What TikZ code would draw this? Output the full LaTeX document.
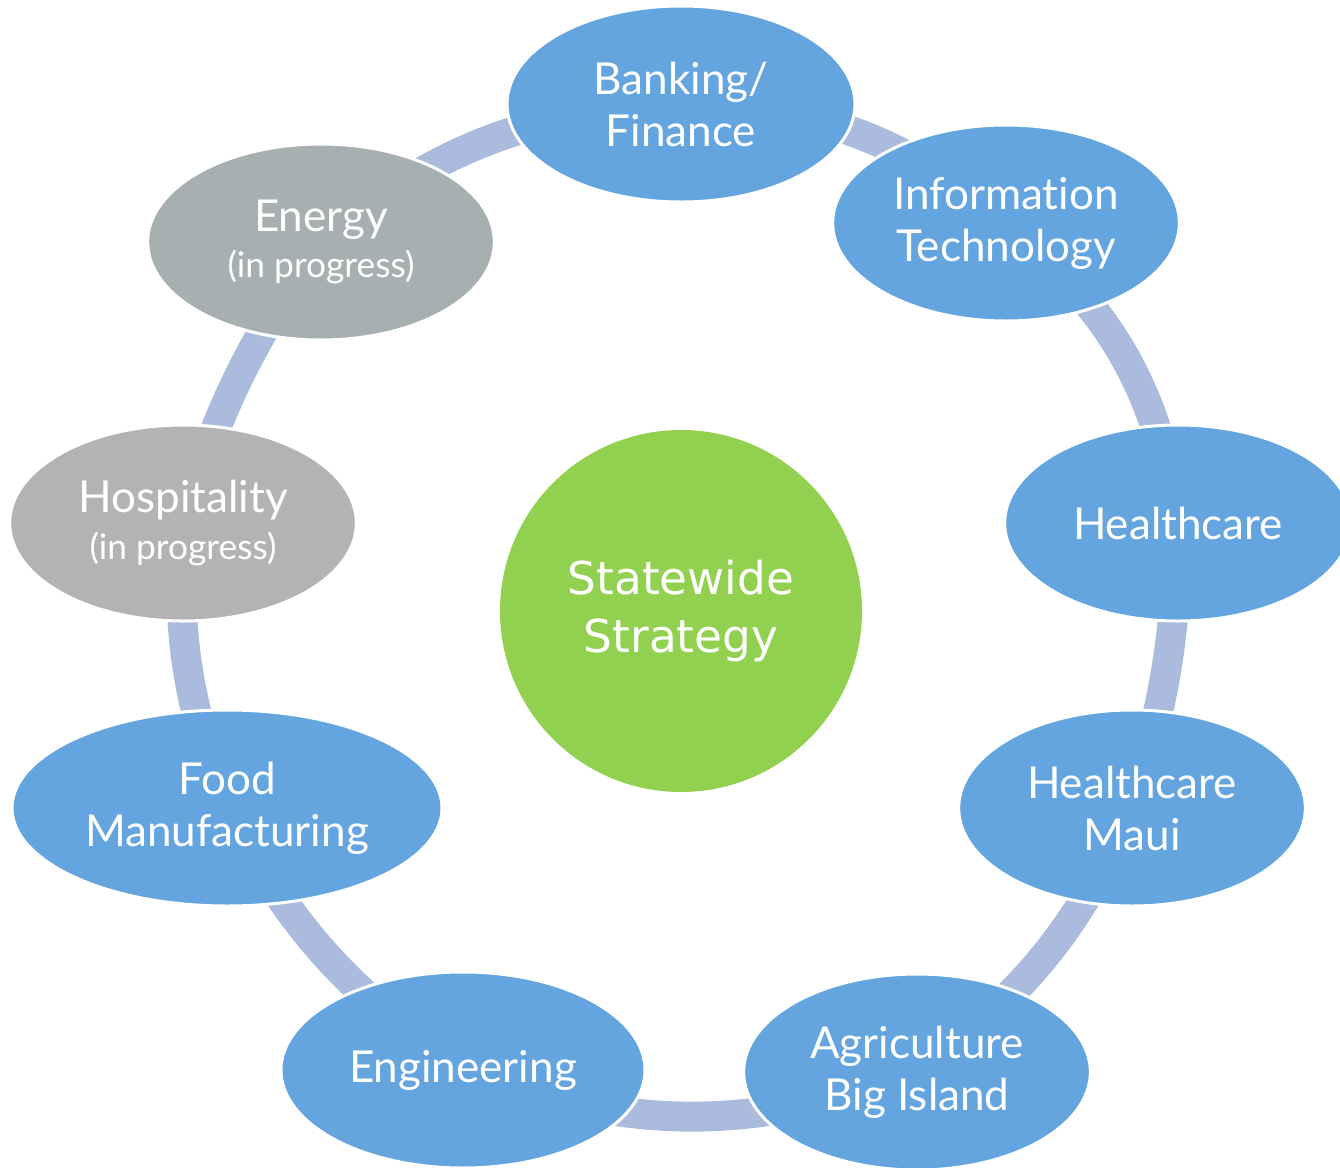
\documentclass[tikz,border=0pt]{standalone}
\usepackage{fontspec}
\setmainfont{Lato}[Ligatures=NoCommon]
\newfontfamily\centrefont{DejaVu Sans}
\usetikzlibrary{shapes.geometric,backgrounds}

\definecolor{sectorblue}{HTML}{64A5E0}
\definecolor{energygrey}{HTML}{A7B0B0}
\definecolor{hospgrey}{HTML}{B3B3B3}
\definecolor{hubgreen}{HTML}{92D050}
\definecolor{ringblue}{HTML}{ABBBDD}

\newcommand{\inprogress}{\\[-4pt]{\fontsize{26.5}{30}\selectfont (in progress)}}

\tikzset{
  sector/.style={ellipse, draw=white, line width=2.25pt, fill=sectorblue, text=white,
    inner sep=0pt, minimum width=260pt, minimum height=147pt, align=center,
    font=\fontsize{33}{39}\selectfont},
  ring/.style={draw=ringblue, line width=22.5pt}
}

\begin{document}
\begin{tikzpicture}[x=0.75pt,y=0.75pt,yscale=-1,xscale=1]
\useasboundingbox (0,0) rectangle (1340,1168);

% Hub
\node [circle, fill=hubgreen, text=white, minimum size=271.5pt, inner sep=0pt, align=center,
  font=\centrefont\fontsize{34}{44}\selectfont] (hub) at (681,611) {Statewide\\Strategy};

% Sectors
\node [sector, minimum width=261pt] (bank) at (681,104) {Banking/\\Finance};
\node [sector] (it) at (1006,223) {Information\\Technology};
\node [sector] (hc) at (1178,523) {Healthcare};
\node [sector] (maui) at (1132,808) {Healthcare\\Maui};
\node [sector] (agri) at (917,1072) {Agriculture\\Big Island};
\node [sector, minimum width=273pt] (eng) at (463,1070) {Engineering};
\node [sector, minimum width=322.5pt] (food) at (227,808) {Food\\Manufacturing};
\node [sector, fill=hospgrey] (hosp) at (183,523) {Hospitality\inprogress};
\node [sector, fill=energygrey] (energy) at (321,242) {Energy\inprogress};

% Ring
\begin{scope}[on background layer]
\draw [ring] (bank.center) to [bend right=19] (it.center);
\draw [ring] (it.center) to [bend right=21] (hc.center);
\draw [ring] (hc.center) to [bend right=8] (maui.center);
\draw [ring] (maui.center) to [bend right=15] (agri.center);
\draw [ring] (agri.center) to [bend right=20] (eng.center);
\draw [ring] (eng.center) to [bend right=14] (food.center);
\draw [ring] (food.center) to [bend right=12] (hosp.center);
\draw [ring] (hosp.center) to [bend right=9] (energy.center);
\draw [ring] (energy.center) to [bend right=18] (bank.center);
\end{scope}

\end{tikzpicture}
\end{document}
